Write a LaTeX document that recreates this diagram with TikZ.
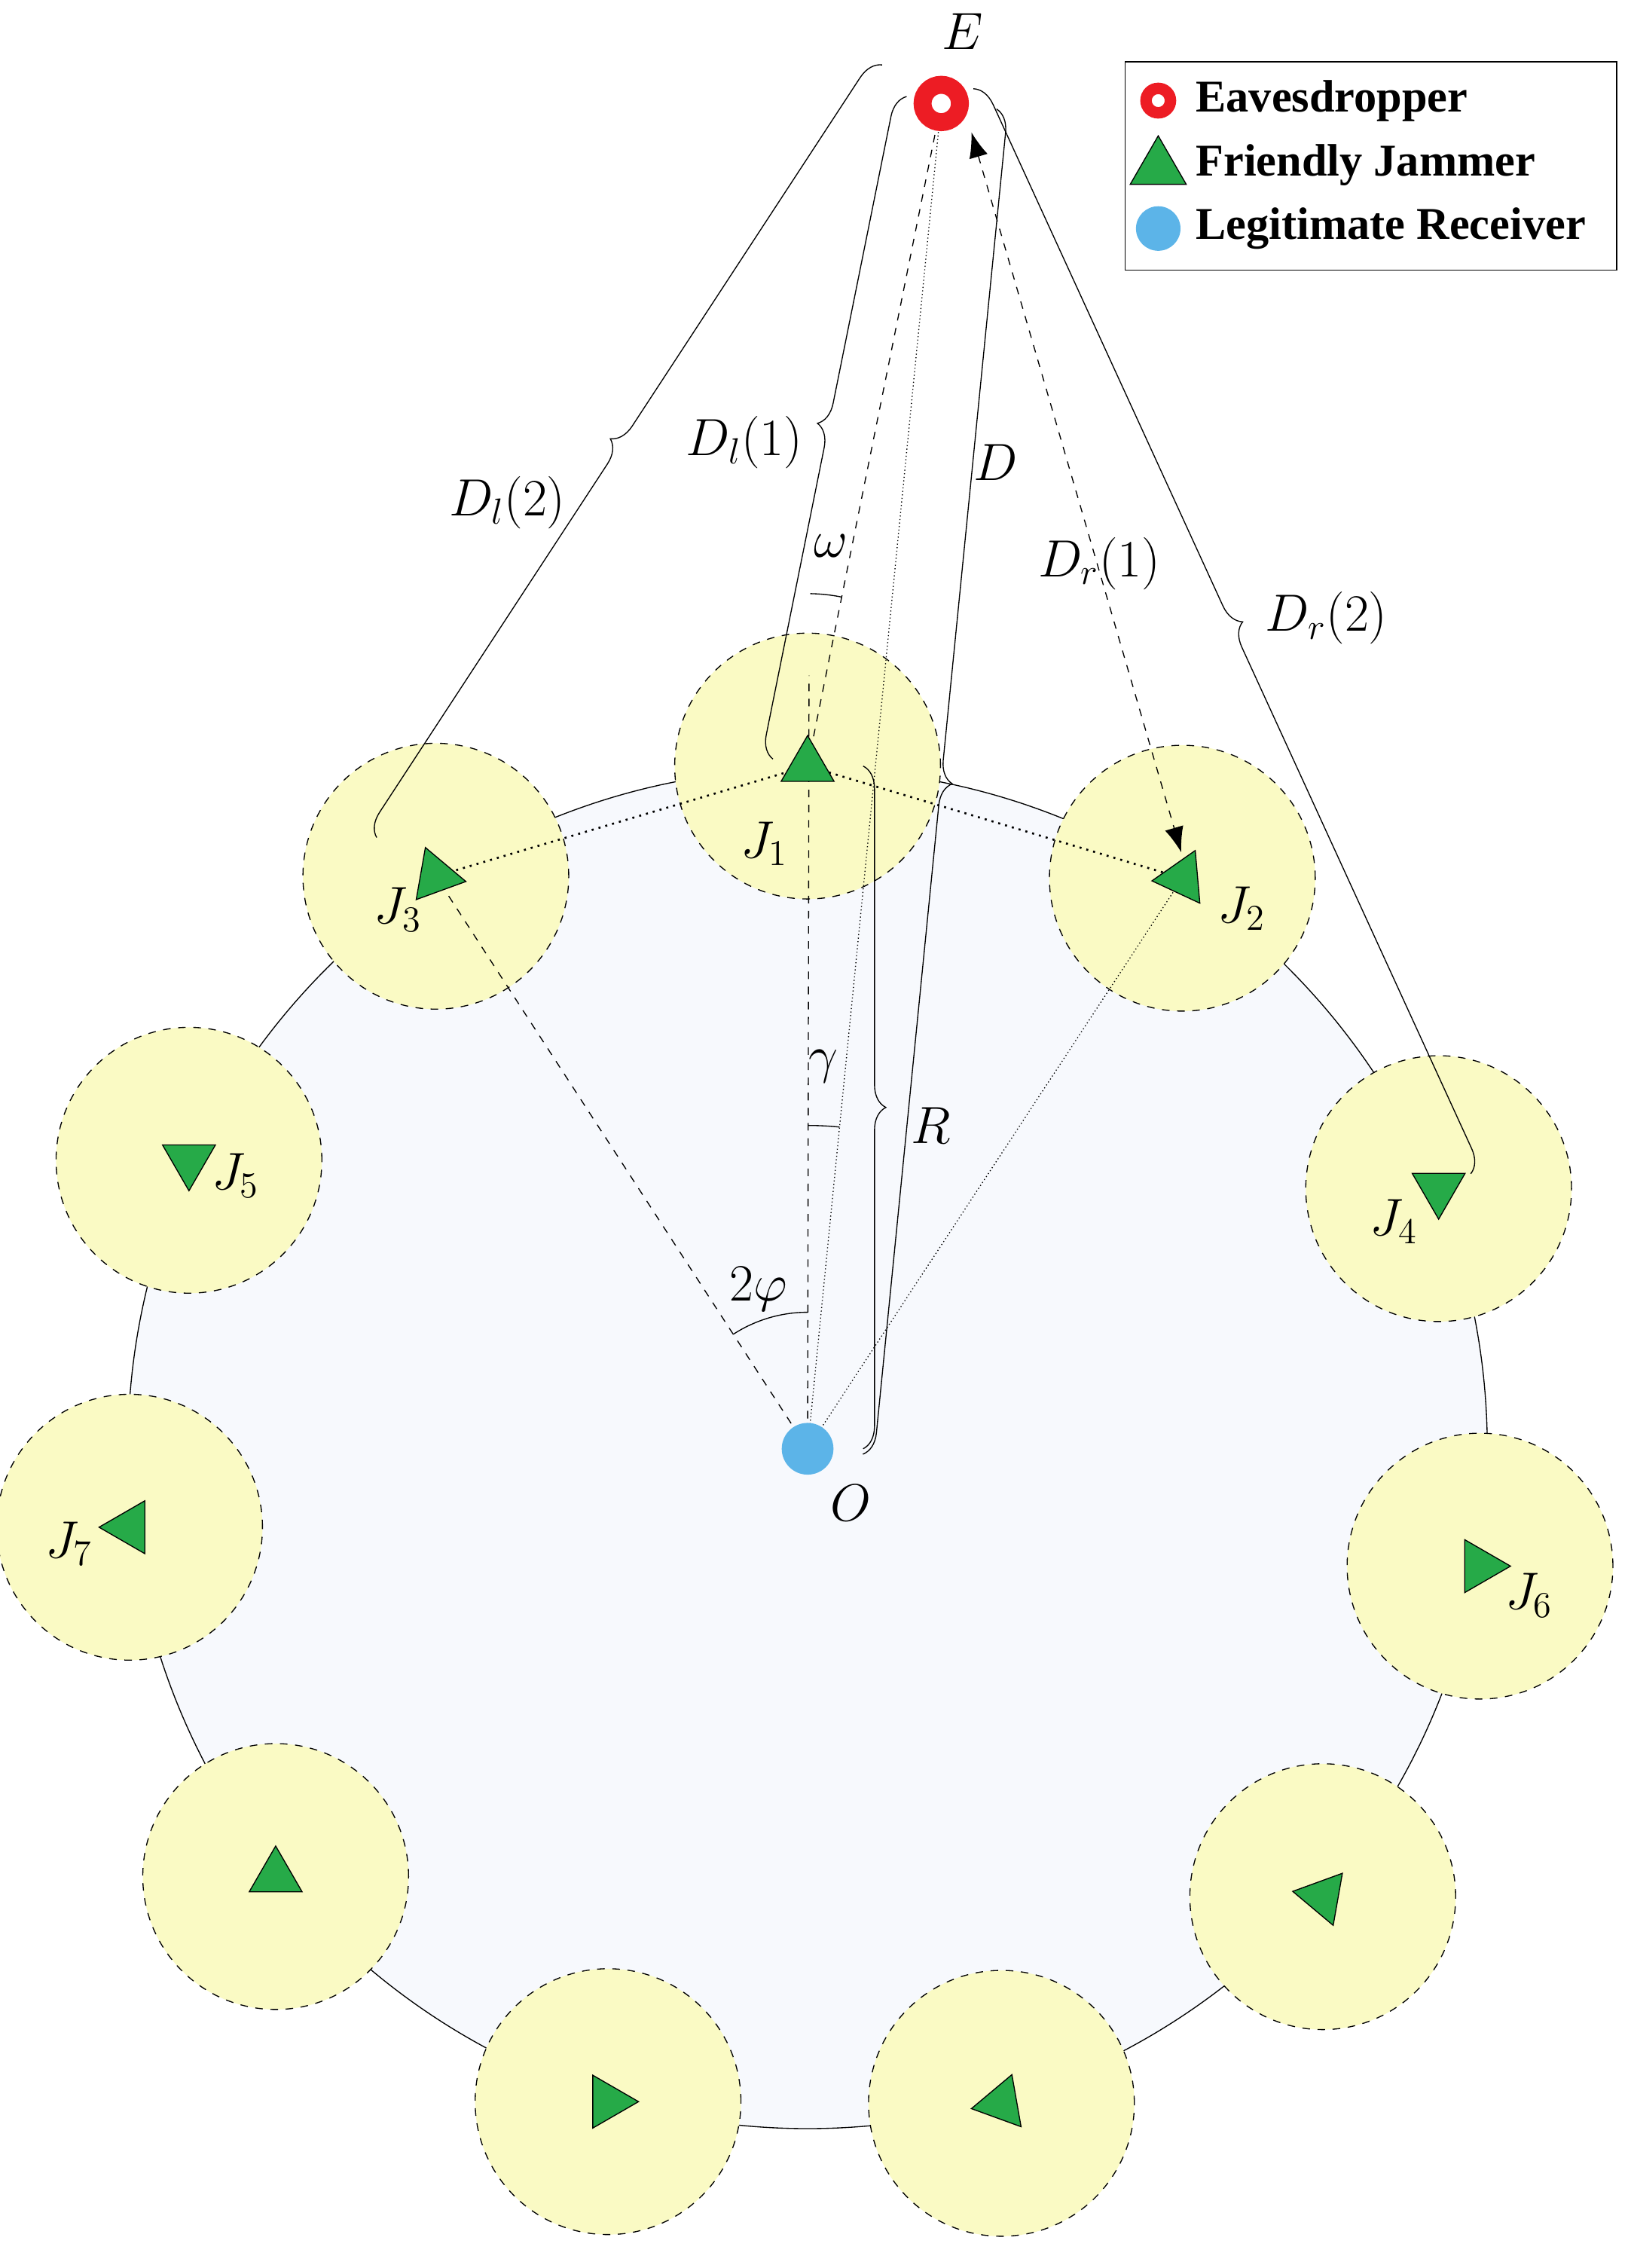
\documentclass[tikz,border=0pt]{standalone}
\usepackage{fontspec}
\setmainfont{Liberation Serif}
\usetikzlibrary{calc,decorations,decorations.pathreplacing,shapes.geometric,angles,arrows.meta}
\definecolor{jamgreen}{RGB}{38,170,72}
\definecolor{zoneyellow}{RGB}{250,250,196}
\definecolor{diskblue}{RGB}{247,249,253}
\definecolor{rxblue}{RGB}{92,180,232}
\definecolor{eveRed}{RGB}{237,28,36}
\tikzset{
  zone/.style={circle,draw,dashed,fill=zoneyellow,minimum size=3.7cm,inner sep=0pt},
  jam/.style={regular polygon,regular polygon sides=3,draw,fill=jamgreen,minimum size=0.85cm,inner sep=0pt},
  lbl/.style={font=\fontsize{20}{24}\selectfont},
  lbrace/.style={decorate,decoration={brace,amplitude=9pt,raise=#1}},
  leg/.style={anchor=west,font=\fontsize{18}{21}\selectfont\bfseries}
}
\begin{document}
\begin{tikzpicture}[x=0.02cm,y=-0.02cm]
\useasboundingbox (0,0) rectangle (1135,1578);
\coordinate (O) at (562,1008);
\filldraw[fill=diskblue,thin] (O) circle[radius=473];
% jammer zones
\foreach \n/\a in {1/-90,2/-56.7,3/-123,4/-22.4,5/-155,6/9.9,7/173.4,8/141.2,9/107,10/73.5,11/41}
  \node[zone] (Z\n) at ($(O)+(\a:475)$) {};
\coordinate (J1) at (Z1); \coordinate (J2) at (Z2); \coordinate (J3) at (Z3); \coordinate (J4) at (Z4);
\coordinate (E) at (655,72);
\coordinate (W) at (563,470);
% guide lines
\draw[dashed,thin] (O) -- (J3);
\draw[densely dotted,thin] (O) -- (J2);
\draw[dashed,thin] (O) -- (W);
\draw[densely dotted,thin] (O) -- (E);
\draw[dashed,thin] (J1) -- (E);
\draw[dotted,thick] (J3) -- (J1) -- (J2);
\draw[dashed,thin,{Latex[length=10pt]}-{Latex[length=10pt]}] (676,92) -- (822,593);
% angles
\draw pic[draw,thin,angle radius=2.4cm] {angle=E--J1--W};
\draw pic[draw,thin,angle radius=4.5cm] {angle=E--O--J1};
\draw pic[draw,thin,angle radius=1.9cm] {angle=J1--O--J3};
% braces
\draw[lbrace=28pt,thin] (J3) -- (E);
\draw[lbrace=14pt,thin] (J1) -- (E);
\draw[lbrace=22pt,thin] (E) -- (O);
\draw[lbrace=22pt,thin] (J1) -- (O);
\draw[lbrace=14pt,thin] (E) -- (J4);
% jammers
\foreach \n/\r in {1/0,2/95,3/-100,4/60,5/180,6/-90,7/90,8/0,9/-90,10/100,11/80}
  \node[jam,rotate=\r] (T\n) at (Z\n) {};
% receiver and eavesdropper
\node[circle,fill=rxblue,minimum size=0.72cm,inner sep=0pt] (Rx) at (O) {};
\node[circle,draw=eveRed,line width=0.25cm,fill=white,minimum size=0.52cm,inner sep=0pt] (Ev) at (E) {};
% labels
\node[lbl] (lE) at (670,22) {$E$};
\node[lbl] (lO) at (592,1046) {$O$};
\node[lbl] (l1) at (532,587) {$J_1$};
\node[lbl] (l2) at (864,632) {$J_2$};
\node[lbl] (l3) at (277,633) {$J_3$};
\node[lbl] (l4) at (970,850) {$J_4$};
\node[lbl] (l5) at (164,818) {$J_5$};
\node[lbl] (l6) at (1064,1110) {$J_6$};
\node[lbl] (l7) at (48,1074) {$J_7$};
\node[lbl] (lDl2) at (353,350) {$D_l(2)$};
\node[lbl] (lDl1) at (518,308) {$D_l(1)$};
\node[lbl] (lD) at (693,322) {$D$};
\node[lbl] (lDr1) at (765,392) {$D_r(1)$};
\node[lbl] (lDr2) at (923,430) {$D_r(2)$};
\node[lbl] (lR) at (648,783) {$R$};
\node[lbl] (lw) at (578,380) {$\omega$};
\node[lbl] (lg) at (573,742) {$\gamma$};
\node[lbl] (lp) at (528,897) {$2\varphi$};
% legend
\draw[thin] (783,43) rectangle (1125,188);
\node[circle,draw=eveRed,line width=0.16cm,fill=white,minimum size=0.34cm,inner sep=0pt] (kE) at (806,70) {};
\node[jam,minimum size=0.9cm] (kJ) at (806,117) {};
\node[circle,fill=rxblue,minimum size=0.62cm,inner sep=0pt] (kR) at (806,159) {};
\node[leg] (tE) at (826,70) {Eavesdropper};
\node[leg] (tJ) at (826,115) {Friendly Jammer};
\node[leg] (tR) at (826,159) {Legitimate Receiver};
\end{tikzpicture}
\end{document}
